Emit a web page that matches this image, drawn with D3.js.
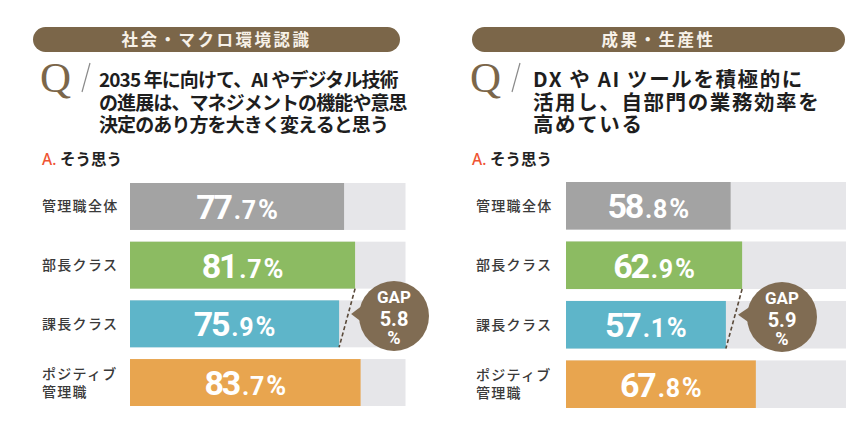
<!DOCTYPE html>
<html>
<head>
<meta charset="utf-8">
<script src="https://cdn.jsdelivr.net/npm/d3@7"></script>
<style>
  html, body { margin: 0; padding: 0; background: #ffffff; }
  svg { display: block; }
</style>
</head>
<body>
<svg id="chart" width="862" height="441"></svg>
<script>
// ---- data ----
const categories = ["管理職全体", "部長クラス", "課長クラス", "ポジティブ\n管理職"];
const panelTitles = ["社会・マクロ環境認識", "成果・生産性"];
const questionLines = [
  ["2035 年に向けて、AI やデジタル技術", "の進展は、マネジメントの機能や意思", "決定のあり方を大きく変えると思う"],
  ["DX や AI ツールを積極的に", "活用し、自部門の業務効率を", "高めている"]
];
const answerLabel = ["A.", " そう思う"];
const valuesSociety = [77.7, 81.7, 75.9, 83.7];
const valuesProductivity = [58.8, 62.9, 57.1, 67.8];
const gapLabels = ["5.8", "5.9"];
const barColors = ["#a3a3a3", "#8cbb62", "#5eb5c9", "#e8a54f"];

// ---- layout ----
const svg = d3.select("#chart");
const brown = "#7b6649";
const panels = [
  { ox: 0, values: valuesSociety, x0: 130, x1: 405.5, yr: [183, 406], labelX: 42, pill: [33, 400], gap: gapLabels[0], bubble: [394, 316], qx: 99, qsize: 19, qls: -0.9 },
  { ox: 430, values: valuesProductivity, x0: 566, x1: 846, yr: [182, 408], labelX: 476, pill: [472, 845], gap: gapLabels[1], bubble: [782, 317], qx: 533, qsize: 20.5, qls: 1.6 }
];

panels.forEach((p, pi) => {
  const g = svg.append("g");
  // pill header
  g.append("rect")
    .attr("x", p.pill[0]).attr("y", 27)
    .attr("width", p.pill[1] - p.pill[0]).attr("height", 25)
    .attr("rx", 12.5).attr("fill", brown);
  g.append("text")
    .attr("x", (p.pill[0] + p.pill[1]) / 2).attr("y", 45.5)
    .attr("text-anchor", "middle")
    .attr("font-family", "'Noto Sans CJK JP', sans-serif")
    .attr("font-weight", 700).attr("font-size", 16.5)
    .attr("letter-spacing", 2.5)
    .attr("fill", "#f7f1e8")
    .text(panelTitles[pi]);

  // Q mark
  const qx = p.ox + 40;
  g.append("text")
    .attr("x", qx).attr("y", 92)
    .attr("font-family", "'Liberation Serif', 'DejaVu Serif', serif")
    .attr("font-size", 43)
    .attr("fill", brown)
    .text("Q");
  g.append("line")
    .attr("x1", qx + 50).attr("y1", 63)
    .attr("x2", qx + 42).attr("y2", 92)
    .attr("stroke", "#8a8a8a").attr("stroke-width", 1.2);

  // question text
  const qt = g.append("text")
    .attr("font-family", "'Noto Sans CJK JP', sans-serif")
    .attr("font-weight", 700).attr("font-size", p.qsize)
    .attr("letter-spacing", p.qls)
    .attr("fill", "#1e1e1e");
  questionLines[pi].forEach((line, i) => {
    qt.append("tspan")
      .attr("x", p.qx)
      .attr("y", 87 + i * 22.5)
      .text(line);
  });

  // answer label
  const at = g.append("text")
    .attr("x", p.ox + 42).attr("y", 165)
    .attr("font-family", "'Noto Sans CJK JP', sans-serif")
    .attr("font-weight", 700).attr("font-size", 15.5);
  at.append("tspan").attr("fill", "#ef5433").attr("font-family", "'Noto Sans', sans-serif").attr("font-weight", 500).text(answerLabel[0]);
  at.append("tspan").attr("fill", "#222").text(answerLabel[1]);

  // scales
  const x = d3.scaleLinear().domain([0, 100]).range([p.x0, p.x1]);
  const y = d3.scaleBand().domain(categories).range(p.yr).paddingInner(0.2).paddingOuter(0);

  // background tracks
  g.selectAll(".track").data(categories).join("rect")
    .attr("x", x(0)).attr("y", d => y(d))
    .attr("width", x(100) - x(0)).attr("height", y.bandwidth())
    .attr("fill", "#e6e6e9");

  // bars
  g.selectAll(".bar").data(p.values).join("rect")
    .attr("x", x(0)).attr("y", (d, i) => y(categories[i]))
    .attr("width", d => x(d) - x(0)).attr("height", y.bandwidth())
    .attr("fill", (d, i) => barColors[i]);

  // value labels
  p.values.forEach((v, i) => {
    const s = v.toFixed(1).split(".");
    const cx = (x(0) + x(v)) / 2;
    const cy = y(categories[i]) + y.bandwidth() / 2;
    const t = g.append("text")
      .attr("x", cx).attr("y", cy + 12.5)
      .attr("text-anchor", "middle")
      .attr("font-family", "Roboto, 'Liberation Sans', sans-serif")
      .attr("font-weight", 700)
      .attr("fill", "#ffffff");
    t.append("tspan").attr("font-size", 34).attr("letter-spacing", -2.2).text(s[0]);
    t.append("tspan").attr("font-size", 25).attr("letter-spacing", 0.8).attr("dx", 3).text("." + s[1]);
    t.append("tspan").attr("font-size", 27).attr("dx", 1).text("%");
  });

  // category labels
  categories.forEach((c, i) => {
    const lines = c.split("\n");
    const cy = y(c) + y.bandwidth() / 2;
    const t = g.append("text")
      .attr("font-family", "'Noto Sans CJK JP', sans-serif")
      .attr("font-weight", 500).attr("font-size", 14)
      .attr("letter-spacing", 1.3)
      .attr("fill", "#3a3a3a");
    lines.forEach((l, j) => {
      t.append("tspan")
        .attr("x", p.labelX)
        .attr("y", cy + 5 + (j - (lines.length - 1) / 2) * 18)
        .text(l);
    });
  });

  // gap dashed line between 部長 and 課長 bar ends
  const iA = 1, iB = 2;
  const xa = x(p.values[iA]), ya = y(categories[iA]) + y.bandwidth();
  const xb = x(p.values[iB]), yb = y(categories[iB]) + y.bandwidth();
  g.append("line")
    .attr("x1", xa).attr("y1", ya)
    .attr("x2", xb).attr("y2", yb)
    .attr("stroke", "#5a4a3a").attr("stroke-width", 1.6)
    .attr("stroke-dasharray", "4,2.5");

  // bubble
  const [bx, by] = p.bubble;
  const r = 35;
  const tipX = (xa + xb) / 2 + 4, tipY = (ya + yb) / 2 - 4;
  g.append("path")
    .attr("d", `M${tipX},${tipY} L${bx - r + 4},${by - 11} L${bx - r + 4},${by + 7} Z`)
    .attr("fill", "#806c53");
  g.append("circle")
    .attr("cx", bx).attr("cy", by).attr("r", r)
    .attr("fill", "#806c53");
  const bt = g.append("text")
    .attr("text-anchor", "middle")
    .attr("font-family", "Roboto, 'Liberation Sans', sans-serif")
    .attr("font-weight", 700)
    .attr("fill", "#ffffff");
  bt.append("tspan").attr("x", bx).attr("y", by - 13).attr("font-size", 17).text("GAP");
  bt.append("tspan").attr("x", bx).attr("y", by + 10).attr("font-size", 20).text(p.gap);
  bt.append("tspan").attr("x", bx).attr("y", by + 28).attr("font-size", 18).text("%");
});
</script>
</body>
</html>
